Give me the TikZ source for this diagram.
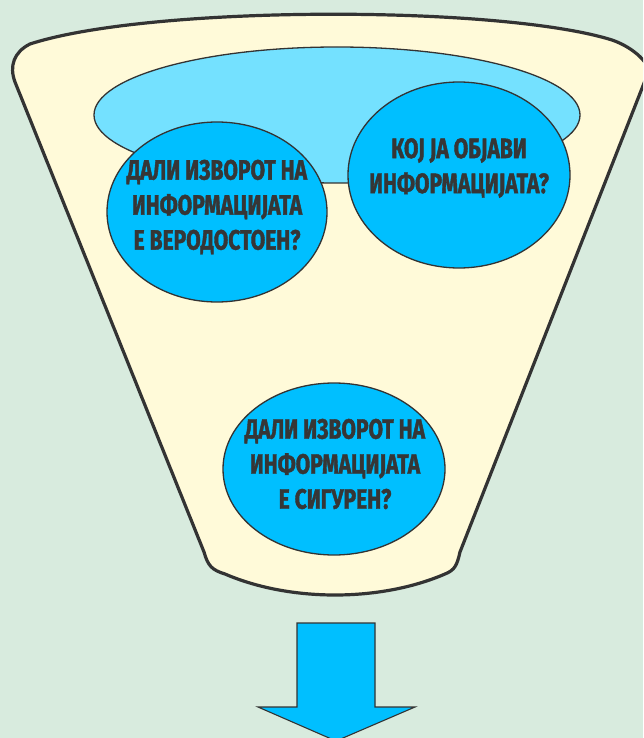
\documentclass[tikz,border=0pt]{standalone}
\usepackage{fontspec}
\newfontfamily\cfont[FakeStretch=0.75, BoldFeatures={FakeBold=1.4}]{Fira Sans}
\usetikzlibrary{shapes.geometric}
\definecolor{bgc}{HTML}{D8EBDE}
\definecolor{cream}{HTML}{FFFAD9}
\definecolor{lblue}{HTML}{74E1FF}
\definecolor{dblue}{HTML}{00BFFF}
\definecolor{edge}{HTML}{333333}
\definecolor{txt}{HTML}{363636}
\tikzset{
  funnel/.style={draw=edge, fill=cream, line width=3.2pt, line join=round},
  bowl/.style={draw=edge, fill=lblue, line width=1.3pt},
  bubble/.style={ellipse, draw=edge, fill=dblue, line width=1.3pt, inner sep=0pt},
  qtext/.style={align=center, text=txt, font=\cfont\bfseries\fontsize{28pt}{35pt}\selectfont, inner sep=0pt},
  arrowshape/.style={draw=edge, fill=dblue, line width=1.1pt, line join=miter}
}
\begin{document}
\begin{tikzpicture}[x=1pt,y=-1pt]
\useasboundingbox (0,0) rectangle (643,738);
\fill[bgc] (0,0) rectangle (643,738);
\begin{scope}
\clip (0,0) rectangle (643,738);
% funnel body
\draw[funnel] (15,82) .. controls (9,66) and (14,52) .. (30,44)
  .. controls (150,5) and (500,5) .. (612,40)
  .. controls (635,48) and (651,65) .. (648,73)
  -- (460,552)
  .. controls (457,565) and (455,570) .. (445,574)
  .. controls (380,602) and (290,602) .. (225,574)
  .. controls (212,570) and (208,566) .. (204,552)
  -- cycle;
% inner bowl
\draw[bowl] (337,115) ellipse [x radius=243, y radius=68];
% bubbles
\node[bubble, minimum width=220pt, minimum height=180pt] (q1) at (217,212) {};
\node[bubble, minimum width=222pt, minimum height=186pt] (q2) at (459,175) {};
\node[bubble, minimum width=222pt, minimum height=172pt] (q3) at (334,469) {};
% arrow
\draw[arrowshape] (297,623) -- (375,623) -- (375,707) -- (415,707) -- (336,741) -- (258,707) -- (297,707) -- cycle;
\end{scope}
% texts
\node[qtext] (t1) at (217,207) {ДАЛИ ИЗВОРОТ НА\\ИНФОРМАЦИЈАТА\\Е ВЕРОДОСТОЕН?};
\node[qtext] (t2) at (459,168) {КОЈ ЈА ОБЈАВИ\\ИНФОРМАЦИЈАТА?};
\node[qtext] (t3) at (335,464) {ДАЛИ ИЗВОРОТ НА\\ИНФОРМАЦИЈАТА\\Е СИГУРЕН?};
\end{tikzpicture}
\end{document}
